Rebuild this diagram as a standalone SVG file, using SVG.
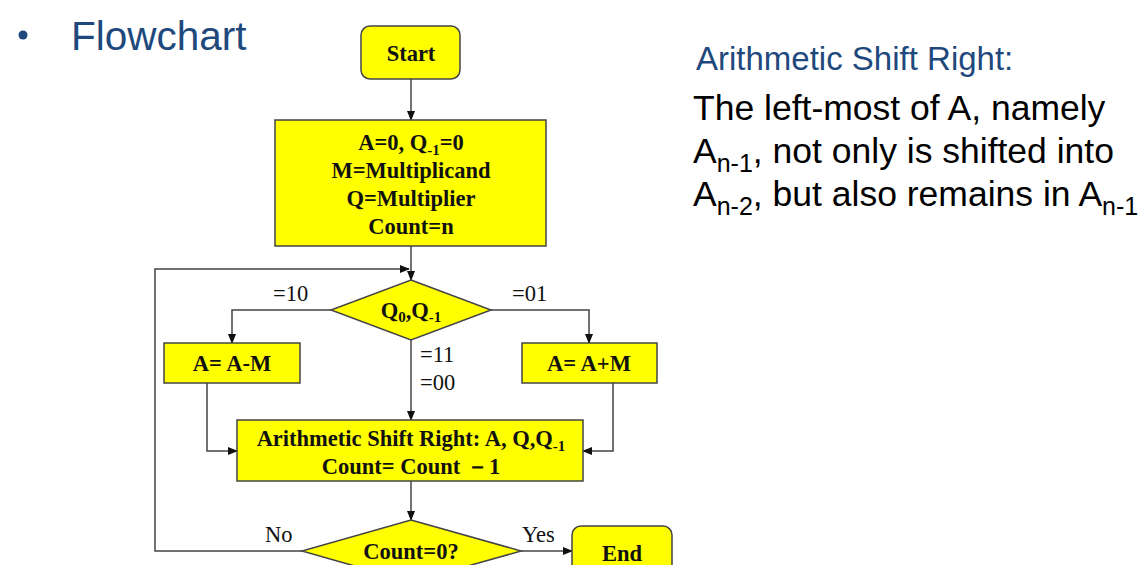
<svg xmlns="http://www.w3.org/2000/svg" width="1141" height="565" viewBox="0 0 1141 565">
<defs>
<marker id="ah" markerWidth="10" markerHeight="8" refX="9" refY="4" orient="auto" markerUnits="userSpaceOnUse">
<path d="M0,0 L10,4 L0,8 z" fill="#111"/>
</marker>
<style>
.box{fill:#FFFF00;stroke:#444;stroke-width:1.5}
.t{font-family:"Liberation Serif",serif;font-weight:bold;font-size:22.5px;fill:#111;text-anchor:middle}
.lb{font-family:"Liberation Serif",serif;font-size:22.5px;fill:#111}
.c{fill:none;stroke:#444;stroke-width:1.5}
.h{font-family:"Liberation Sans",Arial,sans-serif;fill:#1F497D}
.b{font-family:"Liberation Sans",Arial,sans-serif;font-size:35.5px;fill:#000}
</style>
</defs>
<rect width="1141" height="565" fill="#fff"/>
<circle cx="23" cy="35" r="4.5" fill="#1F497D"/>
<text class="h" x="71" y="50" font-size="40.5">Flowchart</text>
<text class="h" x="696" y="70" font-size="33" fill="#2F5597">Arithmetic Shift Right:</text>
<text class="b" x="693" y="120">The left-most of A, namely</text>
<text class="b" x="693" y="163">A<tspan font-size="25" dy="9">n-1</tspan><tspan dy="-9">, not only is shifted into</tspan></text>
<text class="b" x="693" y="206">A<tspan font-size="25" dy="9">n-2</tspan><tspan dy="-9">, but also remains in A</tspan><tspan font-size="25" dy="9">n-1</tspan></text>
<g id="connectors">
<line class="c" x1="411" y1="79" x2="411" y2="120" marker-end="url(#ah)"/>
<line class="c" x1="411" y1="246" x2="411" y2="280" marker-end="url(#ah)"/>
<polyline class="c" points="302,551 155,551 155,269 409,269" marker-end="url(#ah)"/>
<polyline class="c" points="331,310 232,310 232,343" marker-end="url(#ah)"/>
<polyline class="c" points="491,310 589,310 589,343" marker-end="url(#ah)"/>
<line class="c" x1="411" y1="340" x2="411" y2="420" marker-end="url(#ah)"/>
<polyline class="c" points="207,383 207,451 237,451" marker-end="url(#ah)"/>
<polyline class="c" points="613,383 613,451 583,451" marker-end="url(#ah)"/>
<line class="c" x1="411" y1="481" x2="411" y2="520" marker-end="url(#ah)"/>
<line class="c" x1="521" y1="551" x2="572" y2="551" marker-end="url(#ah)"/>
<text class="lb" x="273" y="301">=10</text>
<text class="lb" x="512" y="301">=01</text>
<text class="lb" x="420" y="362">=11</text>
<text class="lb" x="420" y="390">=00</text>
<text class="lb" x="265" y="542">No</text>
<text class="lb" x="522" y="542">Yes</text>
</g>
<g id="start">
<rect class="box" x="361" y="26" width="99" height="53" rx="9"/>
<text class="t" x="411" y="61">Start</text>
</g>
<g id="init">
<rect class="box" x="275" y="120" width="271" height="126"/>
<text class="t" x="411" y="150">A=0, Q<tspan font-size="15" dy="5">-1</tspan><tspan dy="-5">=0</tspan></text>
<text class="t" x="411" y="178">M=Multiplicand</text>
<text class="t" x="411" y="206">Q=Multiplier</text>
<text class="t" x="411" y="234">Count=n</text>
</g>
<g id="decision">
<polygon class="box" points="411,280 491,310 411,340 331,310"/>
<text class="t" x="411" y="318">Q<tspan font-size="15" dy="4">0</tspan><tspan dy="-4">,Q</tspan><tspan font-size="15" dy="4">-1</tspan></text>
</g>
<g id="sub">
<rect class="box" x="164" y="343" width="136" height="40"/>
<text class="t" x="232" y="371">A= A-M</text>
</g>
<g id="add">
<rect class="box" x="522" y="343" width="135" height="40"/>
<text class="t" x="589" y="371">A= A+M</text>
</g>
<g id="shift">
<rect class="box" x="237" y="420" width="346" height="61"/>
<text class="t" x="411" y="446">Arithmetic Shift Right: A, Q,Q<tspan font-size="15" dy="5">-1</tspan></text>
<text class="t" x="411" y="474">Count= Count －1</text>
</g>
<g id="count">
<polygon class="box" points="411,520 521,551 411,582 302,551"/>
<text class="t" x="411" y="559">Count=0?</text>
</g>
<g id="end">
<rect class="box" x="572" y="526" width="100" height="56" rx="9"/>
<text class="t" x="622" y="561">End</text>
</g>
</svg>
